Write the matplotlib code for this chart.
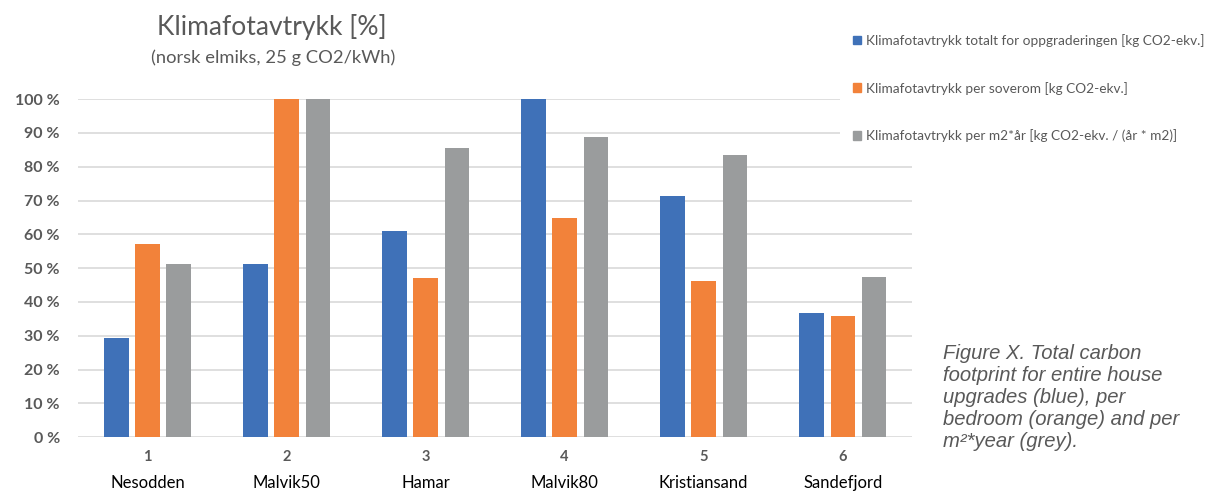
import matplotlib.pyplot as plt
import matplotlib.patches as mpatches
import numpy as np

# Carbon footprint per site, as share of the largest value (%)
numbers = ['1', '2', '3', '4', '5', '6']
sites = ['Nesodden', 'Malvik50', 'Hamar', 'Malvik80', 'Kristiansand', 'Sandefjord']
total = [29.2, 51.2, 60.9, 100.0, 71.3, 36.8]
per_bedroom = [57.1, 100.0, 47.1, 64.7, 46.2, 35.9]
per_m2_year = [51.2, 100.0, 85.5, 88.9, 83.4, 47.5]

series_names = ['Klimafotavtrykk totalt for oppgraderingen [kg CO2-ekv.]',
                'Klimafotavtrykk per soverom [kg CO2-ekv.]',
                'Klimafotavtrykk per m2*år [kg CO2-ekv. / (år * m2)]']
colors = ['#3F71B8', '#F2823A', '#9A9C9D']

text_grey = '#595959'
font = 'Lato'

fig = plt.figure(figsize=(12.09, 4.95), dpi=100)
ax = fig.add_axes([0.0645, 0.117, 0.69, 0.6826])

x = np.arange(len(sites))
width = 0.175
step = 0.224
for i, (vals, col) in enumerate(zip([total, per_bedroom, per_m2_year], colors)):
    ax.bar(x + (i - 1) * step, np.array(vals) / 100, width, color=col, zorder=3)

ax.set_xlim(-0.5, 5.5)
ax.set_ylim(0, 1.0)
ax.set_yticks(np.arange(0, 1.01, 0.1))
ax.set_yticklabels([f'{int(round(v * 100))} %' for v in np.arange(0, 1.01, 0.1)],
                   fontsize=11.5, fontweight='bold', color=text_grey, family=font)
ax.yaxis.grid(True, color='#D9D9D9', linewidth=1.2, zorder=0)
ax.set_axisbelow(True)
for s in ax.spines.values():
    s.set_visible(False)
ax.tick_params(axis='y', length=0, pad=13)
ax.tick_params(axis='x', length=0, pad=9)
ax.set_xticks(x)
ax.set_xticklabels(numbers, fontsize=10.5, fontweight='bold', color=text_grey, family=font)

# site names under the category numbers
for xi, name in zip(x, sites):
    ax.annotate(name, xy=(xi, 0), xycoords=('data', 'axes fraction'),
                xytext=(0, -33), textcoords='offset points', ha='center', va='center',
                fontsize=12, color='black', family=font)

fig.text(0.225, 0.945, 'Klimafotavtrykk [%]', ha='center', va='center',
         fontsize=19, color=text_grey, family=font)
fig.text(0.226, 0.884, '(norsk elmiks, 25 g CO2/kWh)', ha='center', va='center',
         fontsize=13.2, color=text_grey, family=font)

handles = [mpatches.Patch(color=c, label=n) for c, n in zip(colors, series_names)]
leg = fig.legend(handles=handles, loc='upper left', bbox_to_anchor=(0.6895, 0.97),
                 frameon=True, facecolor='white', edgecolor='none', framealpha=1,
                 labelspacing=2.55, handlelength=0.6, handleheight=0.6,
                 handletextpad=0.4, borderpad=0.9, prop={'family': font, 'size': 9.8})
for t in leg.get_texts():
    t.set_color(text_grey)

caption = ('Figure X. Total carbon\nfootprint for entire house\nupgrades (blue), per\n'
           'bedroom (orange) and per\nm²*year (grey).')
fig.text(0.78, 0.305, caption, ha='left', va='top', fontsize=14.6, style='italic',
         color=text_grey, family='Liberation Sans', linespacing=1.2)

fig.savefig('out.png', dpi=100)
